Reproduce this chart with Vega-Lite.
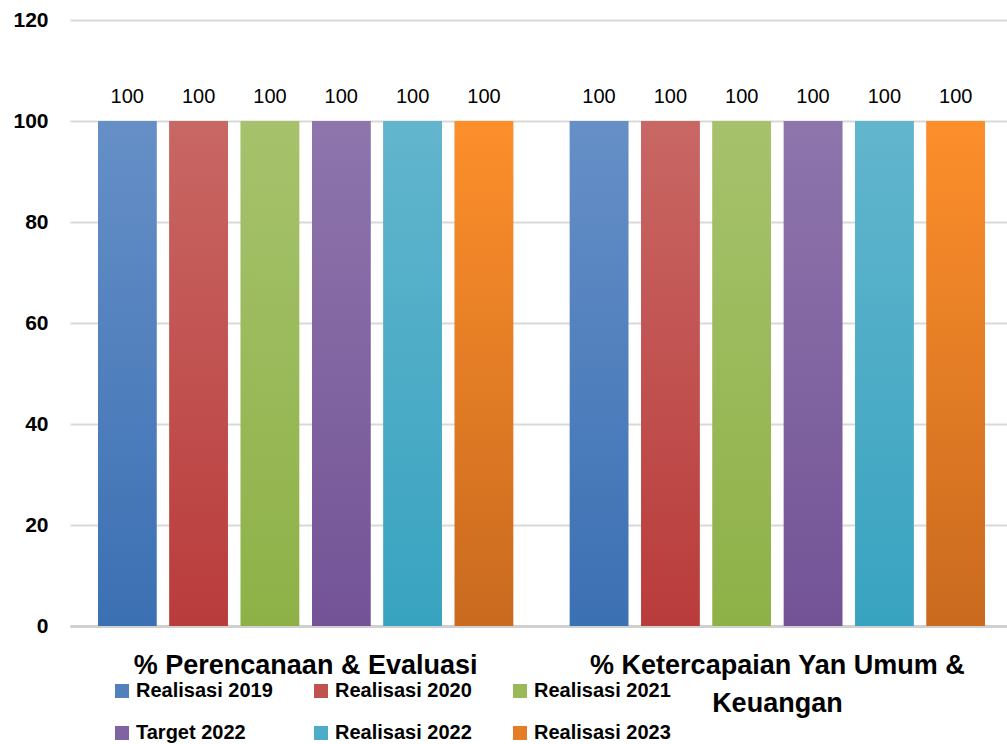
{
  "$schema": "https://vega.github.io/schema/vega-lite/v6.json",
  "width": 943,
  "height": 606,
  "autosize": "none",
  "padding": {"left": 70, "top": 20, "right": 0, "bottom": 118},
  "background": "white",
  "config": {"view": {"stroke": null}, "font": "Liberation Sans"},
  "data": {
    "values": [
      {"kategori": "% Perencanaan & Evaluasi", "seri": "Realisasi 2019", "nilai": 100},
      {"kategori": "% Perencanaan & Evaluasi", "seri": "Realisasi 2020", "nilai": 100},
      {"kategori": "% Perencanaan & Evaluasi", "seri": "Realisasi 2021", "nilai": 100},
      {"kategori": "% Perencanaan & Evaluasi", "seri": "Target 2022", "nilai": 100},
      {"kategori": "% Perencanaan & Evaluasi", "seri": "Realisasi 2022", "nilai": 100},
      {"kategori": "% Perencanaan & Evaluasi", "seri": "Realisasi 2023", "nilai": 100},
      {"kategori": "% Ketercapaian Yan Umum & Keuangan", "seri": "Realisasi 2019", "nilai": 100},
      {"kategori": "% Ketercapaian Yan Umum & Keuangan", "seri": "Realisasi 2020", "nilai": 100},
      {"kategori": "% Ketercapaian Yan Umum & Keuangan", "seri": "Realisasi 2021", "nilai": 100},
      {"kategori": "% Ketercapaian Yan Umum & Keuangan", "seri": "Target 2022", "nilai": 100},
      {"kategori": "% Ketercapaian Yan Umum & Keuangan", "seri": "Realisasi 2022", "nilai": 100},
      {"kategori": "% Ketercapaian Yan Umum & Keuangan", "seri": "Realisasi 2023", "nilai": 100}
    ]
  },
  "encoding": {
    "x": {
      "field": "kategori", "type": "nominal", "sort": null,
      "scale": {"paddingInner": 0.12, "paddingOuter": 0.0594},
      "axis": {
        "title": null, "labelAngle": 0, "ticks": false,
        "domainColor": "#d0d0d0", "domainWidth": 3,
        "labelFont": "Liberation Sans", "labelFontWeight": "bold", "labelFontSize": 27,
        "labelColor": "#000000", "labelPadding": 39, "labelLineHeight": 38,
        "labelLimit": 600, "labelBaseline": "middle",
        "labelExpr": "datum.value == '% Ketercapaian Yan Umum & Keuangan' ? ['% Ketercapaian Yan Umum &', 'Keuangan'] : datum.value"
      }
    },
    "xOffset": {
      "field": "seri", "type": "nominal", "sort": null,
      "scale": {"domain": ["Realisasi 2019", "Realisasi 2020", "Realisasi 2021", "Target 2022", "Realisasi 2022", "Realisasi 2023"], "paddingInner": 0.18, "paddingOuter": 0}
    },
    "y": {
      "field": "nilai", "type": "quantitative",
      "scale": {"domain": [0, 120], "nice": false},
      "axis": {
        "title": null, "values": [0, 20, 40, 60, 80, 100, 120],
        "domain": false, "ticks": false,
        "gridColor": "#d9d9d9", "gridWidth": 2,
        "labelFont": "Liberation Sans", "labelFontWeight": "bold", "labelFontSize": 21,
        "labelColor": "#000000", "labelPadding": 22
      }
    }
  },
  "layer": [
    {
      "mark": {"type": "bar"},
      "encoding": {
        "color": {
          "field": "seri", "type": "nominal", "sort": null,
          "scale": {
            "domain": ["Realisasi 2019", "Realisasi 2020", "Realisasi 2021", "Target 2022", "Realisasi 2022", "Realisasi 2023"],
            "range": ["#5180bd", "#c05250", "#9aba5a", "#7f64a1", "#4dacc7", "#e37d26"]
          },
          "legend": {
            "title": null, "orient": "none", "legendX": 42, "legendY": 661,
            "direction": "horizontal", "columns": 3,
            "symbolType": "square", "symbolSize": 196, "symbolStrokeWidth": 0,
            "symbolOffset": 0, "labelOffset": 4,
            "labelFont": "Liberation Sans", "labelFontWeight": "bold", "labelFontSize": 20,
            "labelColor": "#000000", "labelLimit": 300,
            "columnPadding": 38, "rowPadding": 22
          }
        }
      }
    },
    {
      "transform": [{"filter": "datum.seri == 'Realisasi 2019'"}],
      "mark": {"type": "bar", "color": {"gradient": "linear", "x1": 0, "y1": 0, "x2": 0, "y2": 1, "stops": [{"offset": 0, "color": "#668fc7"}, {"offset": 1, "color": "#3b70b3"}]}}
    },
    {
      "transform": [{"filter": "datum.seri == 'Realisasi 2020'"}],
      "mark": {"type": "bar", "color": {"gradient": "linear", "x1": 0, "y1": 0, "x2": 0, "y2": 1, "stops": [{"offset": 0, "color": "#c86764"}, {"offset": 1, "color": "#b93c3b"}]}}
    },
    {
      "transform": [{"filter": "datum.seri == 'Realisasi 2021'"}],
      "mark": {"type": "bar", "color": {"gradient": "linear", "x1": 0, "y1": 0, "x2": 0, "y2": 1, "stops": [{"offset": 0, "color": "#a6c26c"}, {"offset": 1, "color": "#8eb147"}]}}
    },
    {
      "transform": [{"filter": "datum.seri == 'Target 2022'"}],
      "mark": {"type": "bar", "color": {"gradient": "linear", "x1": 0, "y1": 0, "x2": 0, "y2": 1, "stops": [{"offset": 0, "color": "#8e75ac"}, {"offset": 1, "color": "#735396"}]}}
    },
    {
      "transform": [{"filter": "datum.seri == 'Realisasi 2022'"}],
      "mark": {"type": "bar", "color": {"gradient": "linear", "x1": 0, "y1": 0, "x2": 0, "y2": 1, "stops": [{"offset": 0, "color": "#62b5cd"}, {"offset": 1, "color": "#38a3c0"}]}}
    },
    {
      "transform": [{"filter": "datum.seri == 'Realisasi 2023'"}],
      "mark": {"type": "bar", "color": {"gradient": "linear", "x1": 0, "y1": 0, "x2": 0, "y2": 1, "stops": [{"offset": 0, "color": "#fd8f2b"}, {"offset": 1, "color": "#c96a1f"}]}}
    },
    {
      "mark": {"type": "text", "dy": -24, "font": "Liberation Sans", "fontSize": 20, "color": "#000000"},
      "encoding": {"text": {"field": "nilai", "type": "quantitative"}}
    }
  ]
}
